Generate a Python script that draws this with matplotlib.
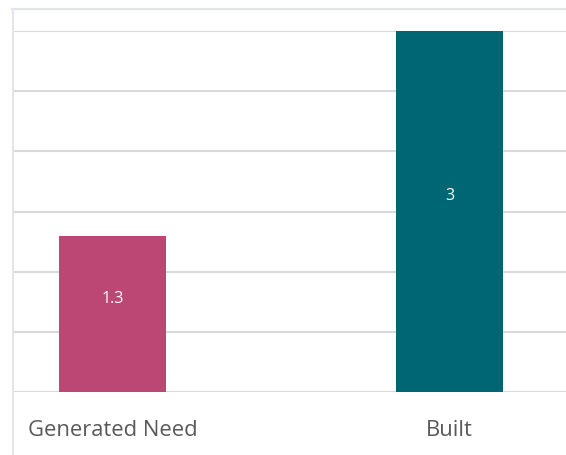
import matplotlib.pyplot as plt
from matplotlib.lines import Line2D

# data
categories = ["Generated Need", "Built"]
values = [1.3, 3]
bar_colors = ["#BC4674", "#006673"]

W, H = 566, 455
fig = plt.figure(figsize=(W / 100, H / 100), dpi=100)
fig.patch.set_facecolor("white")

# plot area: left edge x=12.5px, baseline y=392px, value 3 at y=31px
ax = fig.add_axes([12.5 / W, (H - 392) / H, (W - 12.5) / W, (392 - 31) / H])
ax.set_facecolor("none")

x = range(len(categories))
ax.bar(x, values, width=0.3175, color=bar_colors, zorder=3)

ax.set_ylim(0, 3)
ax.set_xlim(-0.2967, 1.3457)
ax.set_yticks([0, 0.5, 1, 1.5, 2, 2.5, 3])
ax.yaxis.grid(True, color="#d9d9d9", lw=1.5, zorder=0)
ax.set_axisbelow(True)
ax.tick_params(left=False, bottom=False, labelleft=False, labelbottom=False)
for s in ax.spines.values():
    s.set_visible(False)

# category labels
for i, c in enumerate(categories):
    ax.text(i, -0.32, c, ha="center", va="center", fontsize=15.8,
            family="Open Sans", color="#595959", clip_on=False)

# value labels
for i, v in enumerate(values):
    ax.annotate(f"{v:g}", xy=(i, v / 2), xytext=(0, 11),
                textcoords="offset points", ha="center", va="center",
                fontsize=11.5, family="Open Sans", color="white", zorder=4)

# light frame around chart area
frame = "#e1e6ea"
fig.add_artist(Line2D([12 / W, 1], [(H - 9) / H, (H - 9) / H],
                      transform=fig.transFigure, color=frame, lw=1.5))
fig.add_artist(Line2D([12.5 / W, 12.5 / W], [0, (H - 9) / H],
                      transform=fig.transFigure, color=frame, lw=1.5))

fig.savefig("out.png", dpi=100, facecolor="white")
